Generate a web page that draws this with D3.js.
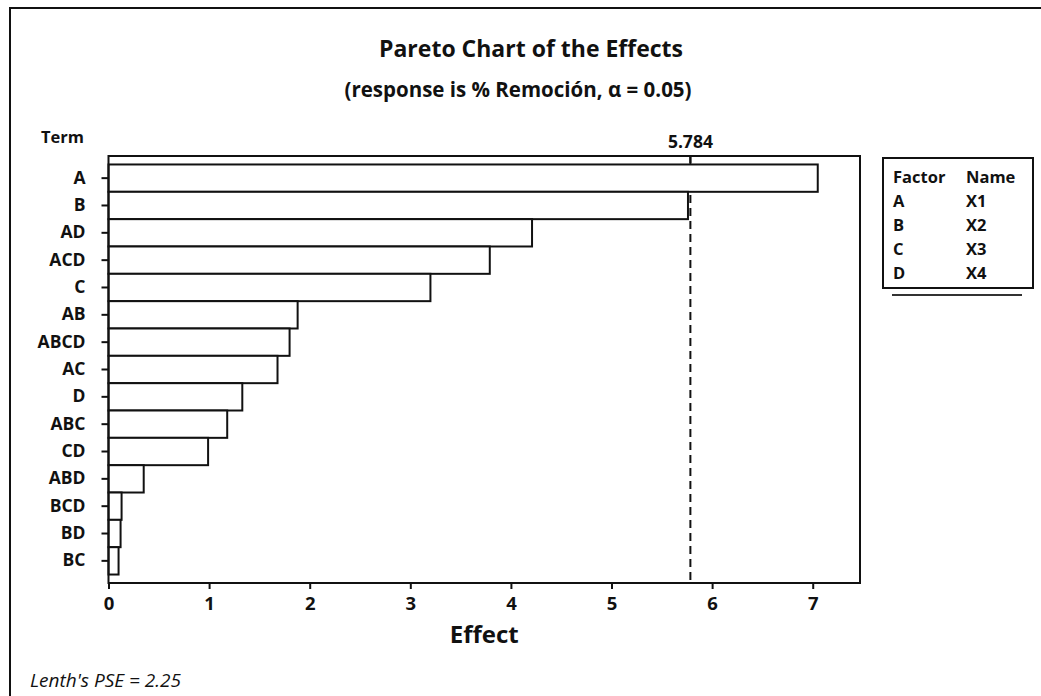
<!DOCTYPE html>
<html>
<head>
<meta charset="utf-8">
<script src="https://cdn.jsdelivr.net/npm/d3@7/dist/d3.min.js"></script>
<style>
  html, body { margin: 0; padding: 0; background: #fff; }
  svg { display: block; }
  text { font-family: "Open Sans", "Noto Sans", sans-serif; fill: #111; }
</style>
</head>
<body>
<svg id="chart" width="1041" height="696"></svg>
<script>
// ---- data ----
const terms   = ["A", "B", "AD", "ACD", "C", "AB", "ABCD", "AC", "D", "ABC", "CD", "ABD", "BCD", "BD", "BC"];
const effects = [7.05, 5.76, 4.21, 3.79, 3.20, 1.88, 1.80, 1.68, 1.33, 1.18, 0.99, 0.35, 0.13, 0.12, 0.10];
const xTicks  = [0, 1, 2, 3, 4, 5, 6, 7];
const critical = 5.784;
const factors = ["A", "B", "C", "D"];
const names   = ["X1", "X2", "X3", "X4"];
const pse = 2.25;

const svg = d3.select("#chart");

// outer figure border
svg.append("rect").attr("x", 10).attr("y", 8).attr("width", 1200).attr("height", 900)
  .attr("fill", "none").attr("stroke", "#111").attr("stroke-width", 2);

const plot = { left: 108.5, top: 156, right: 860, bottom: 583 };

const x = d3.scaleLinear().domain([0, 7.47]).range([plot.left, plot.right]);
const y = d3.scaleBand().domain(terms).range([plot.top, plot.bottom]).paddingInner(0).paddingOuter(0.31);

// title
svg.append("text").attr("x", 531).attr("y", 57).attr("text-anchor", "middle")
  .attr("font-size", 23).attr("font-weight", 700).text("Pareto Chart of the Effects");
svg.append("text").attr("x", 518).attr("y", 97).attr("text-anchor", "middle")
  .attr("font-size", 20.5).attr("font-weight", 700).text("(response is % Remoción, α = 0.05)");

// Term label
svg.append("text").attr("x", 84).attr("y", 143).attr("text-anchor", "end")
  .attr("font-size", 16.5).attr("font-weight", 700).text("Term");

// critical dashed line
svg.append("line").attr("x1", x(critical)).attr("x2", x(critical))
  .attr("y1", plot.top).attr("y2", plot.bottom)
  .attr("stroke", "#111").attr("stroke-width", 2).attr("stroke-dasharray", "8,5");

// bars
svg.append("g").selectAll("rect").data(terms).join("rect")
  .attr("x", x(0))
  .attr("y", d => y(d))
  .attr("width", (d, i) => x(effects[i]) - x(0))
  .attr("height", y.bandwidth())
  .attr("fill", "#fff").attr("stroke", "#111").attr("stroke-width", 2);

// frame
svg.append("rect").attr("x", plot.left).attr("y", plot.top)
  .attr("width", plot.right - plot.left).attr("height", plot.bottom - plot.top)
  .attr("fill", "none").attr("stroke", "#111").attr("stroke-width", 2);

// critical label + top tick
svg.append("line").attr("x1", x(critical)).attr("x2", x(critical))
  .attr("y1", plot.top).attr("y2", plot.top + 7).attr("stroke", "#111").attr("stroke-width", 2);
svg.append("text").attr("x", x(critical)).attr("y", 148).attr("text-anchor", "middle")
  .attr("font-size", 17.5).attr("font-weight", 700).text(critical.toFixed(3));

// y axis
const yAxis = svg.append("g").attr("transform", `translate(${plot.left},0)`)
  .call(d3.axisLeft(y).tickSize(7).tickPadding(16));
yAxis.select(".domain").remove();
yAxis.selectAll("line").attr("stroke", "#111").attr("stroke-width", 2);
yAxis.selectAll("text").attr("font-size", 17.5).attr("font-weight", 700)
  .attr("font-family", "'Open Sans', sans-serif").attr("fill", "#111");

// x axis
const xAxis = svg.append("g").attr("transform", `translate(0,${plot.bottom})`)
  .call(d3.axisBottom(x).tickValues(xTicks).tickFormat(d3.format("d")).tickSize(6).tickPadding(8));
xAxis.select(".domain").remove();
xAxis.selectAll("line").attr("stroke", "#111").attr("stroke-width", 2);
xAxis.selectAll("text").attr("font-size", 18.5).attr("font-weight", 700)
  .attr("font-family", "'Open Sans', sans-serif").attr("fill", "#111");

svg.append("text").attr("x", (plot.left + plot.right) / 2).attr("y", 643).attr("text-anchor", "middle")
  .attr("font-size", 24).attr("font-weight", 700).text("Effect");

// legend
svg.append("line").attr("x1", 892).attr("x2", 1022).attr("y1", 295).attr("y2", 295)
  .attr("stroke", "#333").attr("stroke-width", 2);
svg.append("rect").attr("x", 883).attr("y", 158).attr("width", 150).attr("height", 130)
  .attr("fill", "#fff").attr("stroke", "#111").attr("stroke-width", 2);
const lg = svg.append("g").attr("font-size", 16.5).attr("font-weight", 700);
lg.append("text").attr("x", 893).attr("y", 183).text("Factor");
lg.append("text").attr("x", 966).attr("y", 183).text("Name");
factors.forEach((f, i) => {
  lg.append("text").attr("x", 893).attr("y", 207 + i * 24).text(f);
  lg.append("text").attr("x", 966).attr("y", 207 + i * 24).text(names[i]);
});

// footnote
svg.append("text").attr("x", 30).attr("y", 687).attr("font-size", 19).attr("font-style", "italic")
  .text("Lenth's PSE = " + pse);
</script>
</body>
</html>
